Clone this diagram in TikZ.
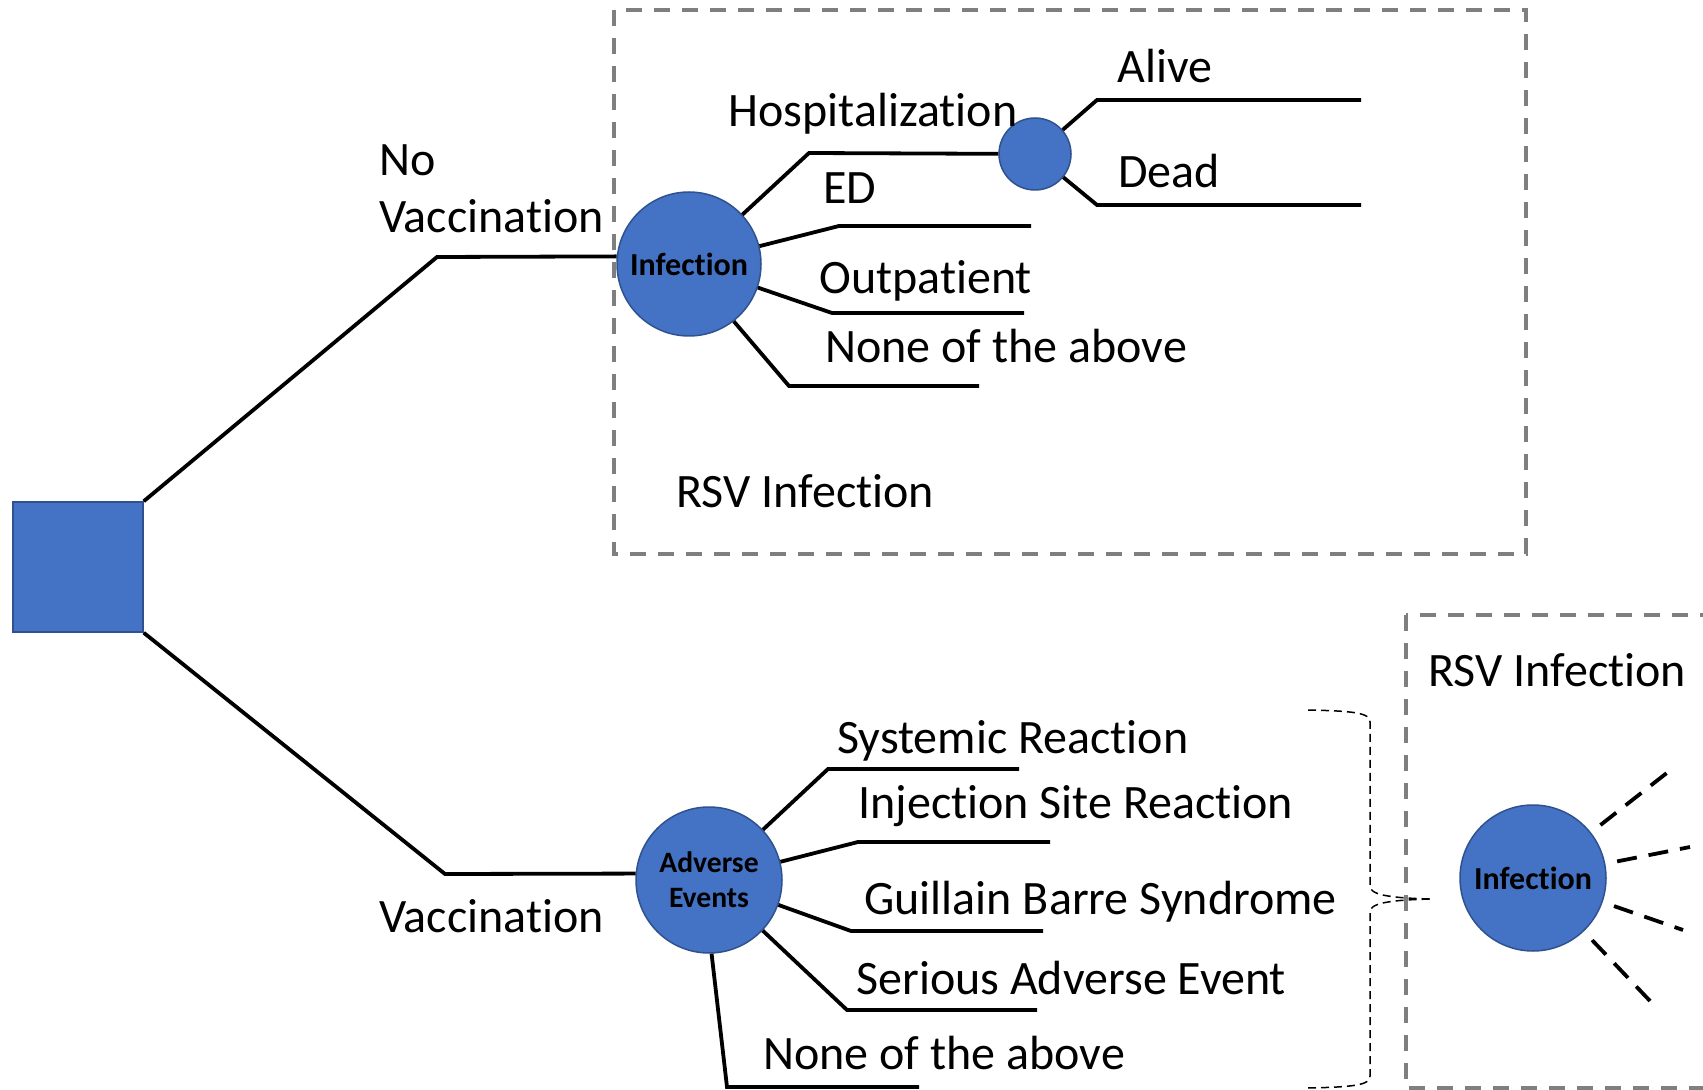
\documentclass[tikz,border=0pt]{standalone}
\usepackage{fontspec}
\setmainfont{Carlito}[Ligatures={NoCommon,NoRequired,NoContextual},Contextuals=NoAlternate]
\definecolor{nodeblue}{HTML}{4472C4}
\definecolor{nodeedge}{HTML}{2F528F}
\definecolor{boxgray}{HTML}{7F7F7F}
\begin{document}
\begin{tikzpicture}[x=0.5pt,y=-0.5pt,
    chance/.style={circle,fill=nodeblue,draw=nodeedge,line width=0.75pt,inner sep=0pt,
      align=center,font=\bfseries\fontsize{16}{18}\selectfont},
    decision/.style={rectangle,fill=nodeblue,draw=nodeedge,line width=0.75pt,
      minimum size=65pt,inner sep=0pt},
    lbl/.style={anchor=base west,inner sep=0pt,align=left,font=\fontsize{24}{28.5}\selectfont},
    branch/.style={line width=1.9pt},
    region/.style={draw=boxgray,line width=2pt,dash pattern=on 8pt off 6pt},
    ray/.style={line width=1.9pt,dash pattern=on 10pt off 6pt,shorten <=6pt},
    bracket/.style={line width=0.75pt,dash pattern=on 4pt off 2.5pt}]
  \useasboundingbox (0,0) rectangle (1703,1090);
  \clip (0,0) rectangle (1703,1090);

  \draw[region] (614,10) rectangle (1526,554);
  \draw[region] (1406,615) rectangle (1760,1088);

  \node[decision] (dec) at (78,567) {};
  \node[chance,minimum size=72pt] (inf) at (689,264) {Infection};
  \node[chance,minimum size=36pt] (hosp) at (1035,154) {};
  \node[chance,minimum size=73pt,font=\bfseries\fontsize{14.8}{17.5}\selectfont] (ae) at (709,880) {Adverse\\Events};
  \node[chance,minimum size=73pt] (inflow) at (1533,878) {Infection};

  \node[lbl] (novac) at (379,233) {No\\Vaccination};
  \node[lbl] (vac) at (379,932) {Vaccination};
  \node[lbl] (hosplbl) at (728,127) {Hospitalization};
  \node[lbl] (alive) at (1117,83) {Alive};
  \node[lbl] (dead) at (1118,188) {Dead};
  \node[lbl] (ed) at (823,204) {ED};
  \node[lbl] (outp) at (819,294) {Outpatient};
  \node[lbl] (noneup) at (825,363) {None of the above};
  \node[lbl] (rsvup) at (676,508) {RSV Infection};
  \node[lbl] (sys) at (837,753) {Systemic Reaction};
  \node[lbl] (inj) at (858,818) {Injection Site Reaction};
  \node[lbl] (gbs) at (864,914) {Guillain Barre Syndrome};
  \node[lbl] (sae) at (856,994) {Serious Adverse Event};
  \node[lbl] (nonelow) at (763,1069) {None of the above};
  \node[lbl] (rsvlow) at (1428,687) {RSV Infection};

  \coordinate (nvelb) at (437,257);
  \coordinate (velb) at (445,874);
  \coordinate (hospelb) at (809,153);
  \coordinate (aliveelb) at (1097,100);
  \coordinate (aliveend) at (1361,100);
  \coordinate (deadelb) at (1097,205);
  \coordinate (deadend) at (1361,205);
  \coordinate (edelb) at (839,226);
  \coordinate (edend) at (1031,226);
  \coordinate (outpelb) at (832,313);
  \coordinate (outpend) at (1024,313);
  \coordinate (noneupelb) at (789,386);
  \coordinate (noneupend) at (979,386);
  \coordinate (syselb) at (828,769);
  \coordinate (sysend) at (1019,769);
  \coordinate (injelb) at (858,842);
  \coordinate (injend) at (1050,842);
  \coordinate (gbselb) at (851,931);
  \coordinate (gbsend) at (1043,931);
  \coordinate (saeelb) at (847,1010);
  \coordinate (saeend) at (1037,1010);
  \coordinate (nonelowelb) at (727,1087);
  \coordinate (nonelowend) at (919,1087);

  \begin{scope}[branch]
    \draw (dec.north east) -- (nvelb) -- (inf.174);
    \draw (dec.south east) -- (velb) -- (ae.175);
    \draw (inf) -- (hospelb) -- (hosp);
    \draw (hosp) -- (aliveelb) -- (aliveend);
    \draw (hosp) -- (deadelb) -- (deadend);
    \draw (inf) -- (edelb) -- (edend);
    \draw (inf) -- (outpelb) -- (outpend);
    \draw (inf.-52) -- (noneupelb) -- (noneupend);
    \draw (ae) -- (syselb) -- (sysend);
    \draw (ae) -- (injelb) -- (injend);
    \draw (ae) -- (gbselb) -- (gbsend);
    \draw (ae) -- (saeelb) -- (saeend);
    \draw (ae.-88) -- (nonelowelb) -- (nonelowend);
  \end{scope}

  \coordinate (ray1) at (1668,772);
  \coordinate (ray2) at (1690,847);
  \coordinate (ray3) at (1683,930);
  \coordinate (ray4) at (1651,1002);
  \begin{scope}[ray]
    \draw (inflow) -- (ray1);
    \draw (inflow) -- (ray2);
    \draw (inflow) -- (ray3);
    \draw (inflow) -- (ray4);
  \end{scope}

  \coordinate (brtop) at (1308,710);
  \coordinate (brbot) at (1308,1088);
  \coordinate (brtip) at (1432,899);
  \draw[bracket] (brtop) .. controls (1355,711) and (1370,713) .. (1370,722) -- (1370,886)
    .. controls (1370,894) and (1385,898) .. (brtip);
  \draw[bracket] (brbot) .. controls (1355,1087) and (1370,1085) .. (1370,1076) -- (1370,912)
    .. controls (1370,904) and (1385,900) .. (brtip);
\end{tikzpicture}
\end{document}
